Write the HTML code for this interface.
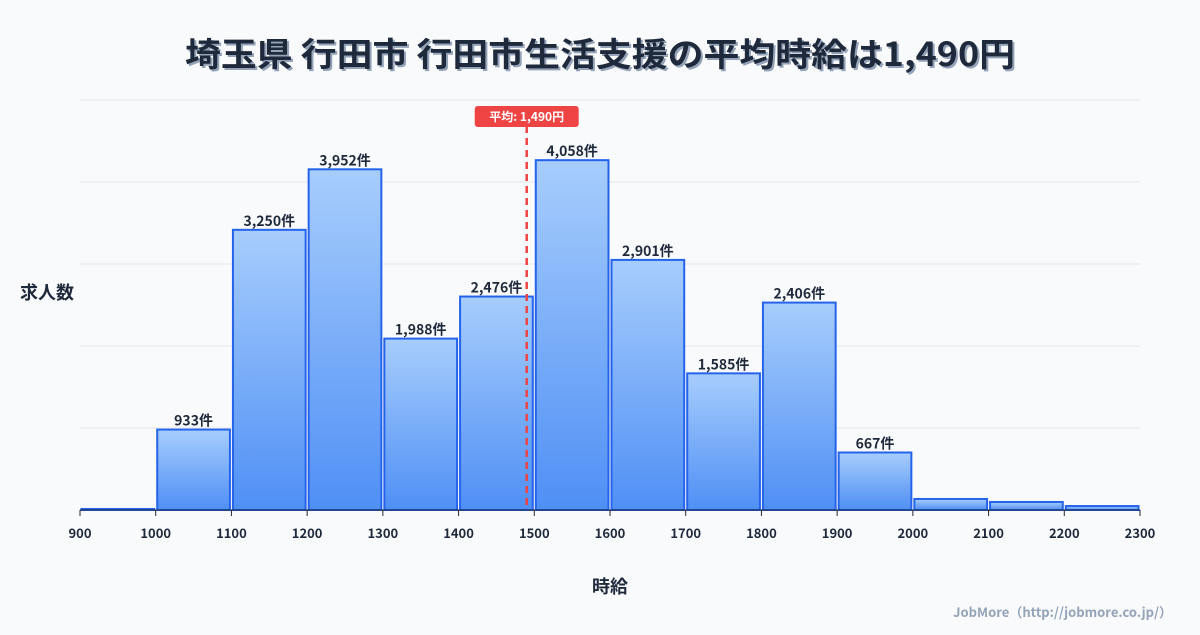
<!DOCTYPE html>
<html><head><meta charset="utf-8"><style>
body{margin:0;width:1200px;height:630px;background:#f8fafc;overflow:hidden}
svg text{font-family:"Noto Sans CJK JP","Liberation Sans",sans-serif}
</style></head><body>
<svg width="1200" height="630" xmlns="http://www.w3.org/2000/svg">
<defs><linearGradient id="g" x1="0" y1="0" x2="0" y2="1"><stop offset="0" stop-color="#a7cdfc"/><stop offset="1" stop-color="#4f8ff5"/></linearGradient></defs>
<text x="602" y="68" text-anchor="middle" font-size="33" font-weight="bold" fill="#94a3b8" textLength="830" lengthAdjust="spacingAndGlyphs">埼玉県 行田市 行田市生活支援の平均時給は1,490円</text>
<text x="600" y="66" text-anchor="middle" font-size="33" font-weight="bold" fill="#1e293b" textLength="830" lengthAdjust="spacingAndGlyphs">埼玉県 行田市 行田市生活支援の平均時給は1,490円</text>
<g id="grid"></g>
<g id="bars"></g>
<g id="axis"></g>
<text x="20" y="299" font-size="18" font-weight="bold" fill="#1e293b">求人数</text>
<text x="610" y="593" text-anchor="middle" font-size="18" font-weight="bold" fill="#1e293b">時給</text>
<text x="1172" y="617" text-anchor="end" font-size="13" font-weight="bold" fill="#94a3b8">JobMore（http://jobmore.co.jp/）</text>
</svg>
<script>
const binStarts=[900,1000,1100,1200,1300,1400,1500,1600,1700,1800,1900,2000,2100,2200];
const counts=[12,933,3250,3952,1988,2476,4058,2901,1585,2406,667,128,93,46];
const labels=["","933件","3,250件","3,952件","1,988件","2,476件","4,058件","2,901件","1,585件","2,406件","667件","","",""];
const xTicks=[900,1000,1100,1200,1300,1400,1500,1600,1700,1800,1900,2000,2100,2200,2300];
const avg=1490;
const avgLabel="平均: 1,490円";
const NS="http://www.w3.org/2000/svg";
const x0=80,x1=1140,yb=510,yt=100,xmin=900,xmax=2300,ymax=4756;
const X=v=>x0+(v-xmin)/(xmax-xmin)*(x1-x0);
const Y=v=>yb-v/ymax*(yb-yt);
function mk(t,a,p){const e=document.createElementNS(NS,t);for(const k in a)e.setAttribute(k,a[k]);p.appendChild(e);return e;}
const grid=document.getElementById('grid'),bars=document.getElementById('bars'),axis=document.getElementById('axis');
for(let i=0;i<=5;i++){const y=yb-i*(yb-yt)/5;const l=mk('line',{x1:x0,x2:x1,y1:y,y2:y,stroke:'#e5e7eb','stroke-width':1},grid);

}
binStarts.forEach((b,i)=>{const xa=X(b)+1.5,xb=X(b+100)-1.5,y=Y(counts[i]);
const r=mk('rect',{x:xa,y:y,width:xb-xa,height:yb-y,fill:'url(#g)',stroke:'#2563eb','stroke-width':2},bars);


if(labels[i]){const t=mk('text',{x:(xa+xb)/2,y:y-4,'text-anchor':'middle','font-size':14,'font-weight':'bold',fill:'#1e293b'},bars);t.textContent=labels[i];

}});
mk('line',{x1:x0,x2:x1,y1:yb,y2:yb,stroke:'#1e293b','stroke-width':1},axis);
xTicks.forEach(v=>{mk('line',{x1:X(v),x2:X(v),y1:yb,y2:yb+6,stroke:'#1e293b'},axis);
const t=mk('text',{x:X(v),y:yb+28,'text-anchor':'middle','font-size':13,'font-weight':'bold',fill:'#1e293b'},axis);t.textContent=v;

});
const ax=X(avg);
const al=mk('line',{x1:ax,x2:ax,y1:126,y2:yb,stroke:'#ef4444','stroke-width':2.5,'stroke-dasharray':'7,5'},axis);


const ar=mk('rect',{x:ax-52,y:106,width:104,height:21,rx:3,fill:'#ef4444'},axis);


const at=mk('text',{x:ax,y:121,'text-anchor':'middle','font-size':12,'font-weight':'bold',fill:'#fff'},axis);at.textContent=avgLabel;


</script>
</body></html>
